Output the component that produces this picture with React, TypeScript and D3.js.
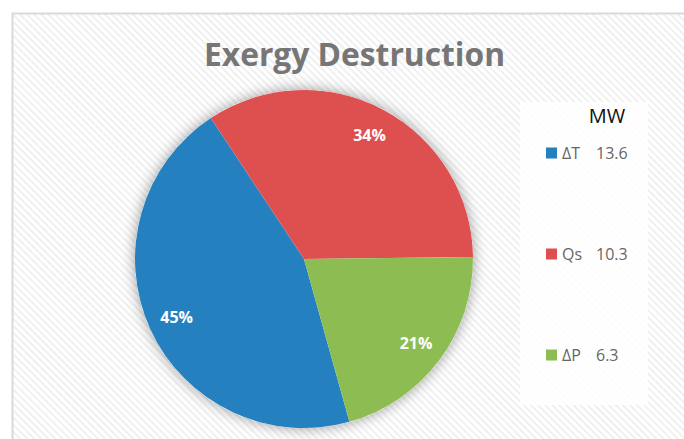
import React from "react";
import * as d3 from "d3";

const categories = ["ΔT", "Qs", "ΔP"];
const values = [13.6, 10.3, 6.3];
const valueLabels = ["13.6", "10.3", "6.3"];
const colors = ["#2580bf", "#de5050", "#8dbd52"];
const title = "Exergy Destruction";
const unitLabel = "MW";

const W = 684;
const H = 439;
const cx = 304;
const cy = 259;
const R = 169;
const startDeg = 164.4;

export default function App() {
  const start = (startDeg * Math.PI) / 180;
  const pie = d3
    .pie<number>()
    .sort(null)
    .value((d) => d)
    .startAngle(start)
    .endAngle(start + 2 * Math.PI);
  const arcs = pie(values);
  const arc = d3.arc<d3.PieArcDatum<number>>().innerRadius(0).outerRadius(R);
  const labelArc = d3.arc<d3.PieArcDatum<number>>().innerRadius(140).outerRadius(140);
  const total = d3.sum(values);
  const fmt = d3.format(".0%");
  const legendY = d3.scalePoint<string>().domain(categories).range([153, 355]);

  return (
    <svg
      width={W}
      height={H}
      style={{ position: "absolute", left: 0, top: 0, display: "block", background: "#fff" }}
    >
      <defs>
        <pattern id="stripes" patternUnits="userSpaceOnUse" width={5} height={5} patternTransform="rotate(45)">
          <rect width={5} height={5} fill="#ffffff" />
          <rect width={5} height={2} fill="#f0f0f0" />
        </pattern>
        <filter id="shadow" x="-20%" y="-20%" width="140%" height="140%">
          <feDropShadow dx={0} dy={0} stdDeviation={7} floodColor="#000" floodOpacity={0.4} />
        </filter>
      </defs>
      <rect x={12.5} y={13.5} width={720} height={460} fill="url(#stripes)" stroke="#d9d9d9" strokeWidth={2} />
      <text
        x={354.5}
        y={66}
        textAnchor="middle"
        fontFamily="'Open Sans', sans-serif"
        fontWeight={700}
        fontSize={32}
        fill="#767676"
        textLength={301}
        lengthAdjust="spacingAndGlyphs"
      >
        {title}
      </text>
      <g transform={`translate(${cx},${cy})`}>
        <circle r={R} fill="#fff" filter="url(#shadow)" />
        {arcs.map((a, i) => (
          <path key={i} d={arc(a) || ""} fill={colors[i]} />
        ))}
        {arcs.map((a, i) => {
          const [x, y] = labelArc.centroid(a);
          return (
            <text
              key={"l" + i}
              x={x}
              y={y}
              dy="0.35em"
              textAnchor="middle"
              fontFamily="'Open Sans', sans-serif"
              fontWeight={700}
              fontSize={16}
              fill="#ffffff"
            >
              {fmt(values[i] / total)}
            </text>
          );
        })}
      </g>
      <rect x={520} y={102} width={128} height={303} fill="#ffffff" fillOpacity={0.85} />
      <text x={607} y={123} textAnchor="middle" fontFamily="'Open Sans', sans-serif" fontSize={20} fill="#111">
        {unitLabel}
      </text>
      {categories.map((c, i) => {
        const y = legendY(c) as number;
        return (
          <g key={c}>
            <rect x={546} y={y - 5.5} width={11} height={11} fill={colors[i]} />
            <text x={562} y={y} dy="0.35em" fontFamily="'Open Sans', sans-serif" fontSize={16} fill="#666">
              {c}
            </text>
            <text x={596} y={y} dy="0.35em" fontFamily="'Open Sans', sans-serif" fontSize={16} fill="#666">
              {valueLabels[i]}
            </text>
          </g>
        );
      })}
    </svg>
  );
}
